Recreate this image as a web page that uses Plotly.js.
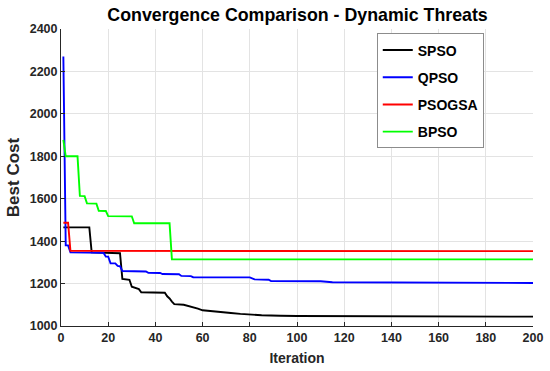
<!DOCTYPE html>
<html>
<head>
<meta charset="utf-8">
<script src="https://cdn.plot.ly/plotly-3.0.1.min.js"></script>
<style>html,body{margin:0;padding:0;background:#fff;}#chart{width:550px;height:371px;}</style>
</head>
<body>
<div id="chart"></div>
<script>
// Series data (iteration breakpoints and best cost values)
var spsoIter = [1,12,13,17,18,25,26,29,30,33,34,44,45,46,47,48,52,53,55,57,58,60,63,66,70,72,76,79,85,93,100,200];
var spsoCost = [1465,1465,1347,1346,1344,1343,1222,1218,1185,1174,1159,1157,1140,1130,1115,1103,1100,1097,1092,1088,1082,1074,1070,1066,1064,1061,1057,1054,1051,1048,1047,1044];

var qpsoIter = [1,2,3,4,18,19,20,21,23,24,25,26,36,37,42,43,50,51,55,56,80,82,88,89,110,115,200];
var qpsoCost = [2270,1380,1380,1347,1345,1327,1327,1296,1295,1283,1282,1259,1257,1251,1250,1245,1244,1236,1235,1230,1229,1220,1218,1212,1211,1206,1203];

var psogsaIter = [1,3,4,200];
var psogsaCost = [1487,1487,1354,1353];

var bpsoIter = [1,2,7,8,10,11,15,16,19,20,30,31,46,47,200];
var bpsoCost = [1877,1800,1800,1613,1612,1578,1577,1543,1542,1518,1517,1484,1484,1314,1314];

var seriesNames = ['SPSO','QPSO','PSOGSA','BPSO'];
var seriesColors = ['#000000','#0000ff','#ff0000','#00ff00'];
var xTicks = [0,20,40,60,80,100,120,140,160,180,200];
var yTicks = [1000,1200,1400,1600,1800,2000,2200,2400];

var xs = [spsoIter, qpsoIter, psogsaIter, bpsoIter];
var ys = [spsoCost, qpsoCost, psogsaCost, bpsoCost];

var FONT = 'Liberation Sans, Arial, Helvetica, sans-serif';
var traces = seriesNames.map(function(n, i){
  return {
    x: xs[i], y: ys[i], type: 'scatter', mode: 'lines', name: n,
    legendgroup: 'g' + i,
    line: {color: seriesColors[i], width: 1.9}
  };
});

var layout = {
  width: 550, height: 371,
  margin: {l: 61, r: 17, t: 29, b: 45},
  paper_bgcolor: '#ffffff', plot_bgcolor: '#ffffff',
  font: {family: FONT, color: '#262626'},
  title: {
    text: '<b>Convergence Comparison - Dynamic Threats</b>',
    font: {family: FONT, size: 17.8, color: '#000000'},
    x: 0.541, xanchor: 'center', y: 0.978, yanchor: 'top'
  },
  xaxis: {
    range: [0, 200], tickvals: xTicks, ticktext: xTicks.map(String),
    showgrid: true, gridcolor: '#e3e3e3', gridwidth: 1,
    showline: true, linecolor: '#262626', linewidth: 1,
    ticks: 'inside', ticklen: 4, tickcolor: '#262626',
    tickfont: {family: FONT, size: 12.5, color: '#262626', weight: 'bold'},
    zeroline: false,
    title: {text: '<b>Iteration</b>', font: {family: FONT, size: 14, color: '#262626'}, standoff: 9}
  },
  yaxis: {
    range: [1000, 2400], tickvals: yTicks, ticktext: yTicks.map(String),
    showgrid: true, gridcolor: '#e3e3e3', gridwidth: 1,
    showline: true, linecolor: '#262626', linewidth: 1,
    ticks: 'inside', ticklen: 4, tickcolor: '#262626',
    tickfont: {family: FONT, size: 12.5, color: '#262626', weight: 'bold'},
    zeroline: false,
    title: {text: '<b>Best Cost</b>', font: {family: FONT, size: 17, color: '#262626'}, standoff: 5}
  },
  showlegend: true,
  legend: {
    x: 0.669, y: 0.985, xanchor: 'left', yanchor: 'top',
    bgcolor: '#ffffff', bordercolor: '#8c8c8c', borderwidth: 1,
    font: {family: FONT, size: 14, color: '#000000', weight: 'bold'},
    traceorder: 'grouped', tracegroupgap: 6
  }
};

Plotly.newPlot('chart', traces, layout, {staticPlot: true, displayModeBar: false});
</script>
</body>
</html>
